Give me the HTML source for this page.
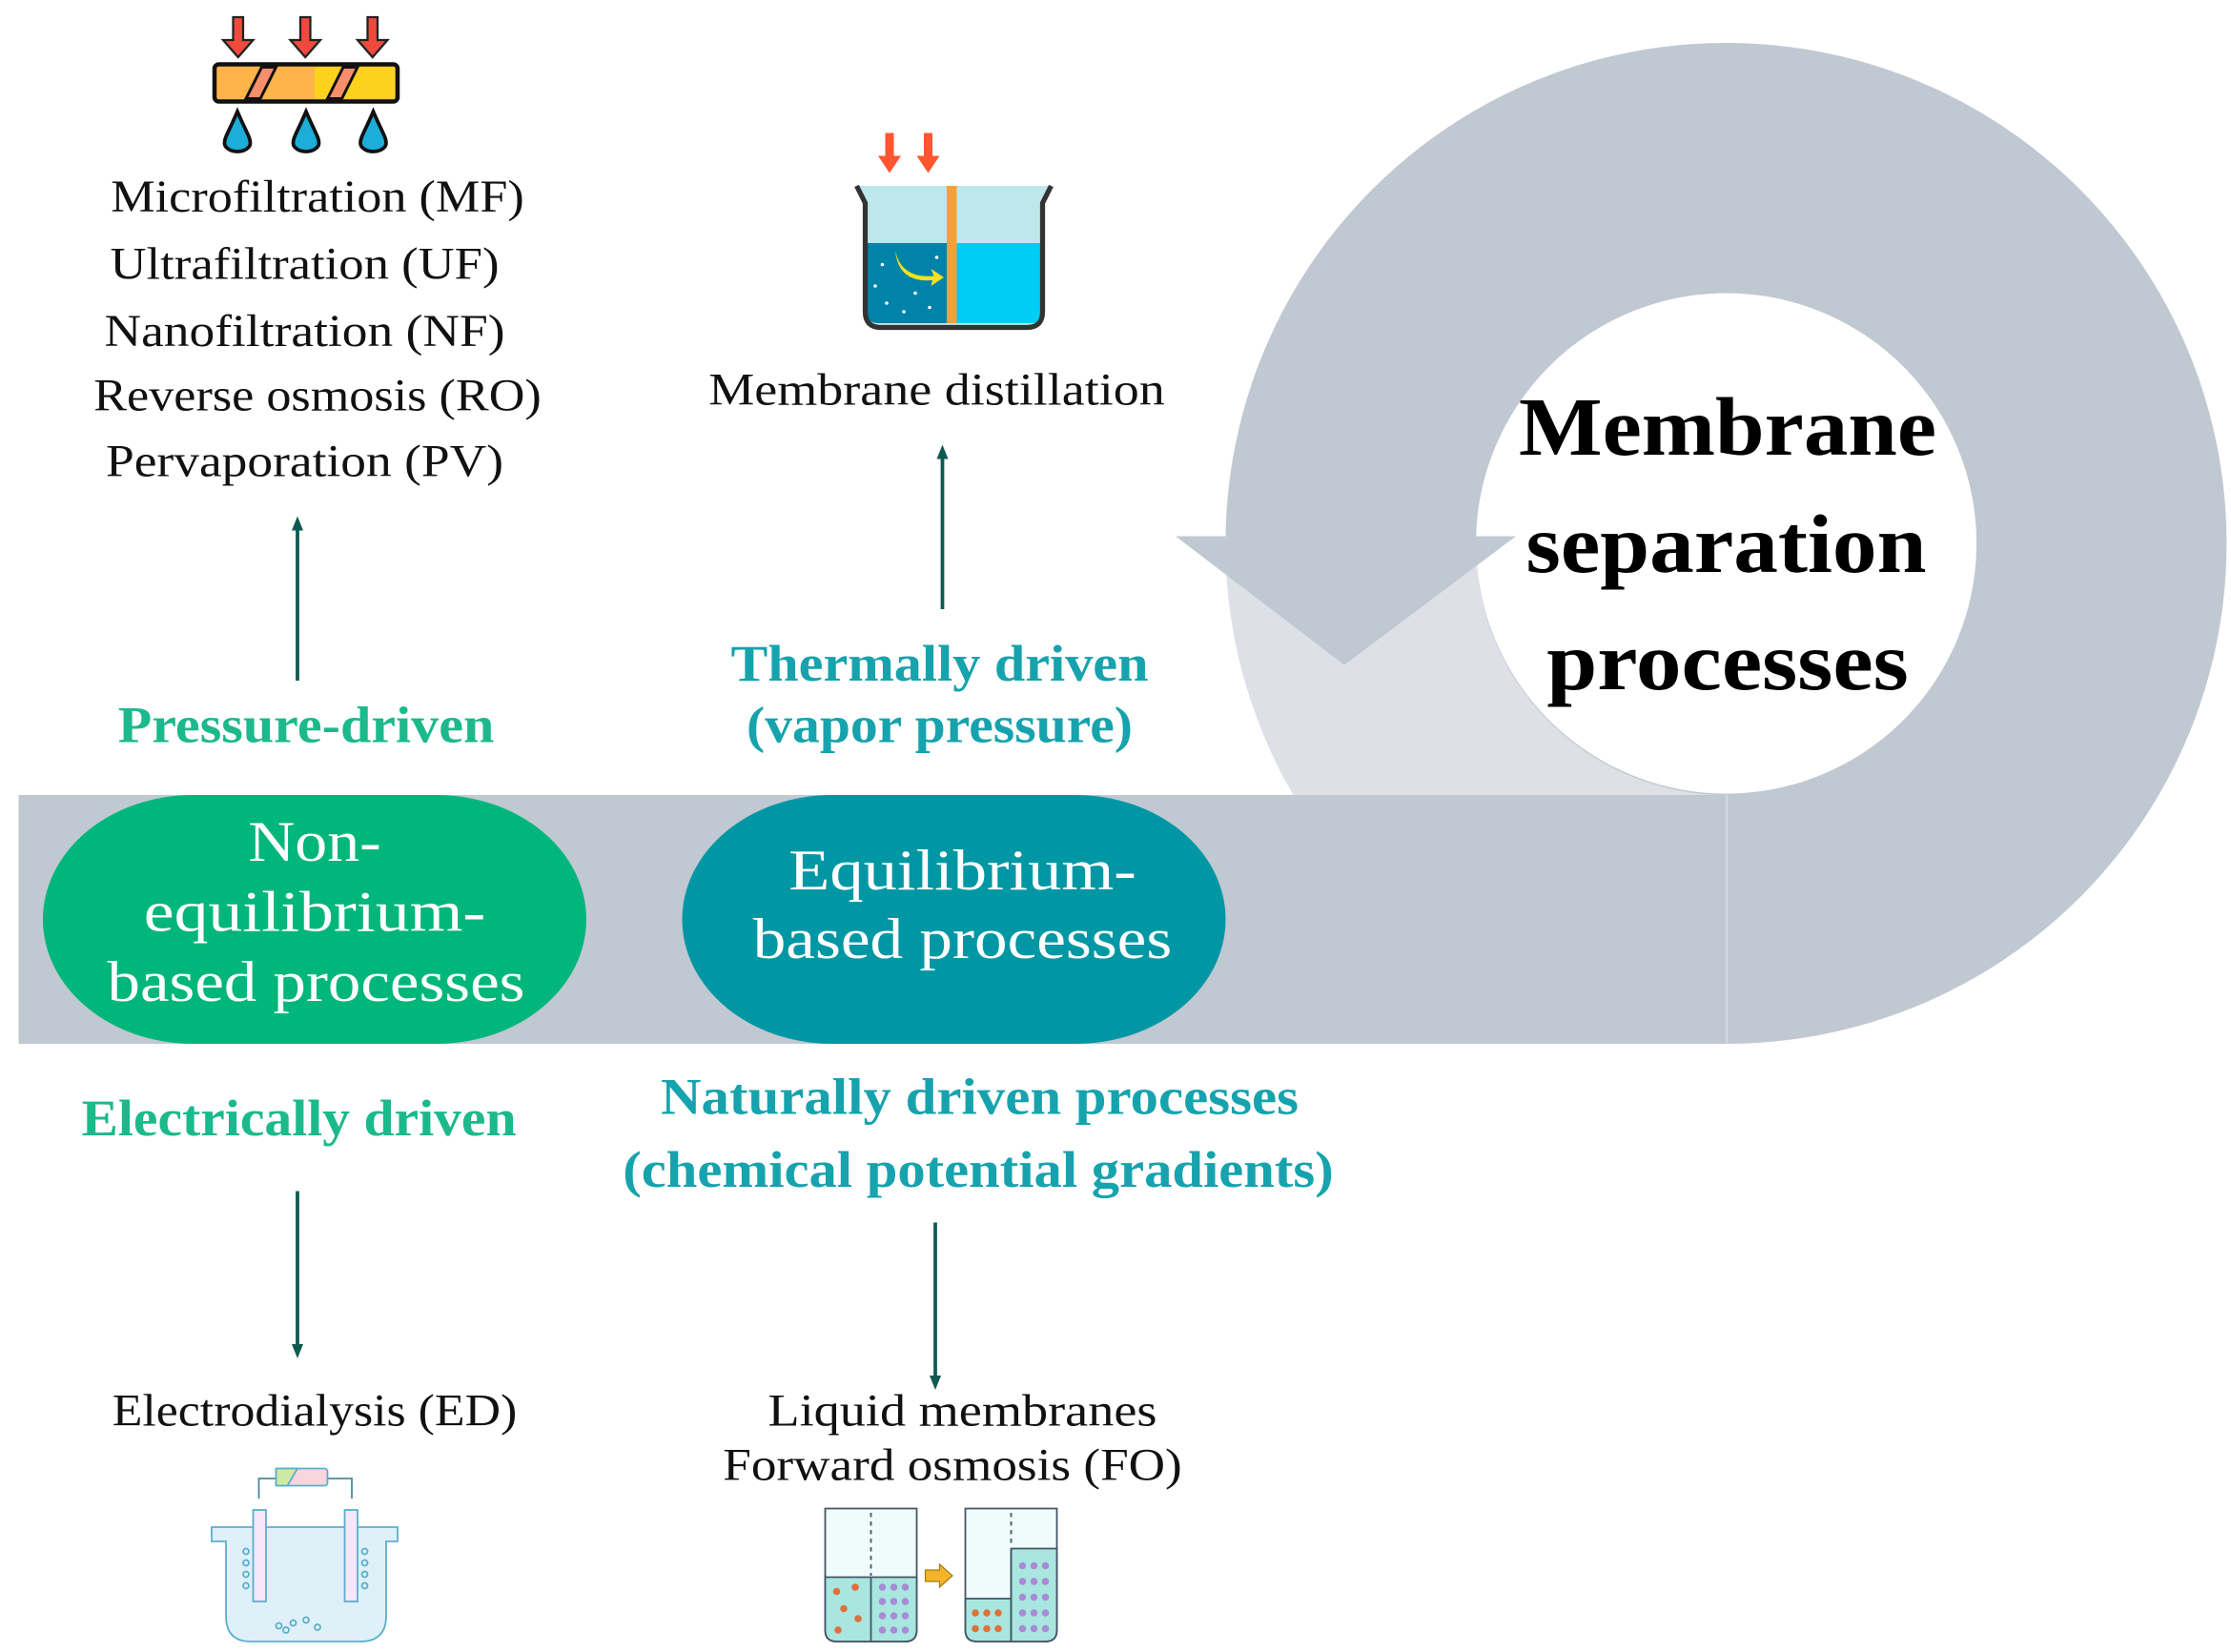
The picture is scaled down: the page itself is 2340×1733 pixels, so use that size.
<!DOCTYPE html>
<html><head><meta charset="utf-8"><style>html,body{margin:0;padding:0;background:#fff}svg{display:block}</style></head>
<body>
<svg width="2340" height="1733" viewBox="0 0 1560 1155.33" xmlns="http://www.w3.org/2000/svg" font-family="'Liberation Serif', serif">
<defs>
<marker id="ah" viewBox="0 0 10 10" refX="5" refY="5" markerWidth="4" markerHeight="4" orient="auto"><path d="M0,1 L10,5 L0,9 z" fill="#0e5a50"/></marker>
</defs>
<path d="M1207,30 A350,350 0 1 1 1206.9,30 Z M1207,205 A175,175 0 1 0 1207.1,205 Z" fill="#c0c8d2" fill-rule="evenodd"/>
<path d="M857,380 A350,350 0 0 0 904.5,556 L1207,556 A175,175 0 0 1 1032,380 Z" fill="#dde0e6"/>
<polygon points="822,375 1060,375 940,465" fill="#c0c8d2"/>
<rect x="13" y="556" width="1194" height="174" fill="#c0c8d2"/>
<line x1="1207.5" y1="556" x2="1207.5" y2="730" stroke="#d4d9e0" stroke-width="1.5"/>
<rect x="30" y="556" width="380" height="174" rx="105" ry="87" fill="#00b67a"/>
<rect x="477" y="556" width="380" height="174" rx="105" ry="87" fill="#0097a4"/>
<g fill="#fff" font-size="40" text-anchor="middle" lengthAdjust="spacingAndGlyphs">
<text x="220" y="602" textLength="93" lengthAdjust="spacingAndGlyphs">Non-</text>
<text x="220" y="651" textLength="239" lengthAdjust="spacingAndGlyphs">equilibrium-</text>
<text x="221" y="700" textLength="292" lengthAdjust="spacingAndGlyphs">based processes</text>
<text x="673" y="622" textLength="243" lengthAdjust="spacingAndGlyphs">Equilibrium-</text>
<text x="673" y="670" textLength="293" lengthAdjust="spacingAndGlyphs">based processes</text>
</g>
<g font-size="58" font-weight="bold" text-anchor="middle" fill="#000">
<text x="1208" y="318" textLength="292" lengthAdjust="spacingAndGlyphs">Membrane</text>
<text x="1207" y="400" textLength="280" lengthAdjust="spacingAndGlyphs">separation</text>
<text x="1208" y="482" textLength="253" lengthAdjust="spacingAndGlyphs">processes</text>
</g>
<g font-size="32" fill="#111" text-anchor="middle">
<text x="222" y="148" textLength="289" lengthAdjust="spacingAndGlyphs">Microfiltration (MF)</text>
<text x="213" y="195" textLength="272" lengthAdjust="spacingAndGlyphs">Ultrafiltration (UF)</text>
<text x="213" y="242" textLength="280" lengthAdjust="spacingAndGlyphs">Nanofiltration (NF)</text>
<text x="222" y="287" textLength="313" lengthAdjust="spacingAndGlyphs">Reverse osmosis (RO)</text>
<text x="213" y="333" textLength="278" lengthAdjust="spacingAndGlyphs">Pervaporation (PV)</text>
<text x="655" y="283" textLength="319" lengthAdjust="spacingAndGlyphs">Membrane distillation</text>
<text x="220" y="997" textLength="283" lengthAdjust="spacingAndGlyphs">Electrodialysis (ED)</text>
<text x="673" y="997" textLength="272" lengthAdjust="spacingAndGlyphs">Liquid membranes</text>
<text x="666" y="1035" textLength="321" lengthAdjust="spacingAndGlyphs">Forward osmosis (FO)</text>
</g>
<g font-size="36" font-weight="bold" text-anchor="middle">
<text x="214" y="519" fill="#1bb98c" textLength="263" lengthAdjust="spacingAndGlyphs">Pressure-driven</text>
<text x="209" y="794" fill="#1bb98c" textLength="304" lengthAdjust="spacingAndGlyphs">Electrically driven</text>
<text x="657" y="476" fill="#16a3ad" textLength="292" lengthAdjust="spacingAndGlyphs">Thermally driven</text>
<text x="657" y="519" fill="#16a3ad" textLength="270" lengthAdjust="spacingAndGlyphs">(vapor pressure)</text>
<text x="685" y="779" fill="#16a3ad" textLength="446" lengthAdjust="spacingAndGlyphs">Naturally driven processes</text>
<text x="684" y="830" fill="#16a3ad" textLength="497" lengthAdjust="spacingAndGlyphs">(chemical potential gradients)</text>
</g>
<g stroke="#0e5a50" stroke-width="2.5" marker-end="url(#ah)">
<line x1="208" y1="476" x2="208" y2="366"/>
<line x1="659" y1="426" x2="659" y2="316"/>
<line x1="208" y1="833" x2="208" y2="945"/>
<line x1="654" y1="855" x2="654" y2="967"/>
</g>
<g>
<g fill="#f04a3c" stroke="#222" stroke-width="1.5">
<path d="M163,12 h7 v16 h7 l-10.5,12 l-10.5,-12 h7 z"/>
<path d="M210,12 h7 v16 h7 l-10.5,12 l-10.5,-12 h7 z"/>
<path d="M257,12 h7 v16 h7 l-10.5,12 l-10.5,-12 h7 z"/>
</g>
<rect x="150" y="45" width="128" height="26" rx="3" fill="#fdb44a" stroke="#111" stroke-width="3"/>
<rect x="220" y="47" width="56" height="22" fill="#fdd21c"/>
<polygon points="183,47 193,47 182,69 172,69" fill="#f88f6a" stroke="#111" stroke-width="2"/>
<polygon points="240,47 250,47 239,69 229,69" fill="#f88f6a" stroke="#111" stroke-width="2"/>
<g fill="#1aaed8" stroke="#111" stroke-width="2.5">
<path d="M166,78 C160,92 157,96 157,100 a9,6 0 0 0 18,0 C175,96 172,92 166,78 z"/>
<path d="M214,78 C208,92 205,96 205,100 a9,6 0 0 0 18,0 C223,96 220,92 214,78 z"/>
<path d="M261,78 C255,92 252,96 252,100 a9,6 0 0 0 18,0 C270,96 267,92 261,78 z"/>
</g>
</g>
<g>
<path d="M619,93 h6 v16 h5 l-8,12 l-8,-12 h5 z" fill="#ff5630"/>
<path d="M646,93 h6 v16 h5 l-8,12 l-8,-12 h5 z" fill="#ff5630"/>
<path d="M600,130 H733 L728,142 V218 Q728,228 718,228 H615 Q605,228 605,218 V142 Z" fill="#bde7ea"/>
<path d="M605,170 H728 V218 Q728,226 718,226 H615 Q605,226 605,218 Z" fill="#0083a8"/>
<rect x="666" y="170" width="62" height="56" fill="#00cdf5"/>
<rect x="662" y="130" width="7" height="96" fill="#f7a035"/>
<path d="M626,175 Q630,195 653,193 L651,188 L660,194 L651,200 L652,196 Q628,198 626,175 z" fill="#f5e11e"/>
<g fill="#fff"><circle cx="617" cy="185" r="1.2"/><circle cx="640" cy="205" r="1.2"/><circle cx="620" cy="212" r="1.2"/><circle cx="650" cy="215" r="1.2"/><circle cx="632" cy="218" r="1.2"/><circle cx="655" cy="180" r="1.2"/><circle cx="612" cy="200" r="1.2"/></g>
<path d="M599,130 L605,142 V218 Q605,229 616,229 H718 Q729,229 729,218 V142 L735,130" fill="none" stroke="#333" stroke-width="3.5"/>
</g>
<g stroke="#5ab0cc" stroke-width="1.2">
<path d="M181,1048 V1034 H246 V1048" fill="none" stroke="#4a8aa0"/>
<rect x="193" y="1027" width="36" height="12" rx="2" fill="#f9d5dc"/>
<polygon points="193,1027 208,1027 201,1039 193,1039" fill="#cde9a3"/>
<path d="M148,1068 H278 V1078 H270 V1130 Q270,1148 252,1148 H175 Q158,1148 158,1130 V1078 H148 Z" fill="#dff0f8"/>
<rect x="177" y="1056" width="9" height="64" fill="#f6e6f8"/>
<rect x="241" y="1056" width="9" height="64" fill="#f6e6f8"/>
<g fill="none"><circle cx="172" cy="1085" r="2"/><circle cx="172" cy="1093" r="2"/><circle cx="172" cy="1101" r="2"/><circle cx="172" cy="1109" r="2"/><circle cx="255" cy="1085" r="2"/><circle cx="255" cy="1093" r="2"/><circle cx="255" cy="1101" r="2"/><circle cx="255" cy="1109" r="2"/><circle cx="205" cy="1135" r="2"/><circle cx="214" cy="1133" r="2"/><circle cx="200" cy="1140" r="2"/><circle cx="222" cy="1138" r="2"/><circle cx="195" cy="1137" r="2"/></g>
</g>
<g stroke="#456" stroke-width="1.2">
<path d="M577,1055 H641 V1140 Q641,1148 633,1148 H585 Q577,1148 577,1140 Z" fill="#f0fbfc"/>
<path d="M577,1103 H641 V1140 Q641,1148 633,1148 H585 Q577,1148 577,1140 Z" fill="#a8e6df"/>
<line x1="609" y1="1103" x2="609" y2="1148"/>
<path d="M675,1055 H739 V1140 Q739,1148 731,1148 H683 Q675,1148 675,1140 Z" fill="#f0fbfc"/>
<path d="M675,1118 H707 V1148 H683 Q675,1148 675,1140 Z" fill="#a8e6df"/>
<path d="M707,1083 H739 V1140 Q739,1148 731,1148 H707 Z" fill="#a8e6df"/>
<line x1="707" y1="1083" x2="707" y2="1148"/>
<polygon points="647,1098 657,1098 657,1094 666,1102 657,1110 657,1106 647,1106" fill="#f4b42a" stroke="#a87a10" stroke-width="0.8"/>
<g stroke-dasharray="3,3"><line x1="609" y1="1058" x2="609" y2="1102"/><line x1="707" y1="1058" x2="707" y2="1082"/></g>
<g fill="#e0703a" stroke="none"><circle cx="585" cy="1113" r="2.5"/><circle cx="598" cy="1110" r="2.5"/><circle cx="590" cy="1125" r="2.5"/><circle cx="600" cy="1132" r="2.5"/><circle cx="586" cy="1140" r="2.5"/><circle cx="682" cy="1128" r="2.5"/><circle cx="690" cy="1128" r="2.5"/><circle cx="698" cy="1128" r="2.5"/><circle cx="682" cy="1139" r="2.5"/><circle cx="690" cy="1139" r="2.5"/><circle cx="698" cy="1139" r="2.5"/></g>
<g fill="#a98ad6" stroke="none"><circle cx="617" cy="1110" r="2.5"/><circle cx="625" cy="1110" r="2.5"/><circle cx="633" cy="1110" r="2.5"/><circle cx="617" cy="1120" r="2.5"/><circle cx="625" cy="1120" r="2.5"/><circle cx="633" cy="1120" r="2.5"/><circle cx="617" cy="1130" r="2.5"/><circle cx="625" cy="1130" r="2.5"/><circle cx="633" cy="1130" r="2.5"/><circle cx="617" cy="1140" r="2.5"/><circle cx="625" cy="1140" r="2.5"/><circle cx="633" cy="1140" r="2.5"/>
<circle cx="715" cy="1095" r="2.5"/><circle cx="723" cy="1095" r="2.5"/><circle cx="731" cy="1095" r="2.5"/><circle cx="715" cy="1106" r="2.5"/><circle cx="723" cy="1106" r="2.5"/><circle cx="731" cy="1106" r="2.5"/><circle cx="715" cy="1117" r="2.5"/><circle cx="723" cy="1117" r="2.5"/><circle cx="731" cy="1117" r="2.5"/><circle cx="715" cy="1128" r="2.5"/><circle cx="723" cy="1128" r="2.5"/><circle cx="731" cy="1128" r="2.5"/><circle cx="715" cy="1139" r="2.5"/><circle cx="723" cy="1139" r="2.5"/><circle cx="731" cy="1139" r="2.5"/></g>
</g>
</svg>
</body></html>
